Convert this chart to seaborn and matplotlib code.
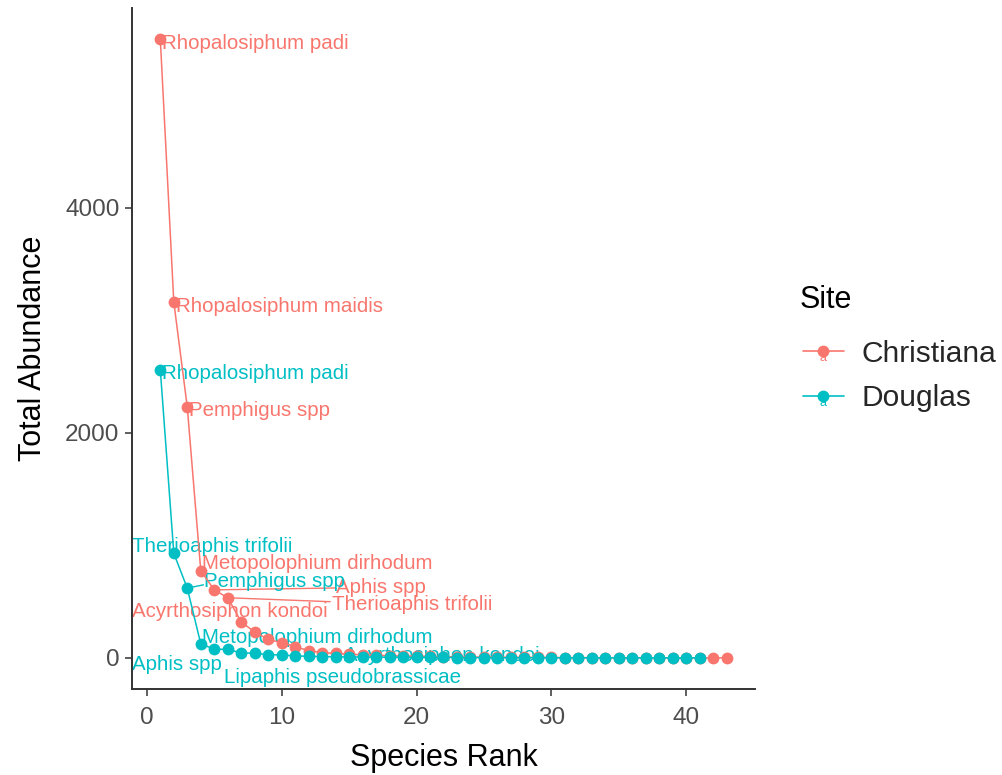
import numpy as np
import pandas as pd
import matplotlib
matplotlib.use("Agg")
import matplotlib.pyplot as plt
import seaborn as sns
from matplotlib.lines import Line2D
from matplotlib.text import Text
from matplotlib.legend_handler import HandlerLine2D

# ---------------- data ----------------
christiana_abund = [5500, 3165, 2230, 775, 605, 535, 320, 230, 165, 135, 100, 65,
                    48, 40, 33, 28, 24, 20, 17, 15, 13, 11, 9, 8, 7, 6, 5, 5, 4, 4,
                    3, 3, 3, 2, 2, 2, 2, 1, 1, 1, 1, 1, 1]
douglas_abund = [2560, 930, 620, 125, 78, 76, 44, 43, 28, 27, 18, 15, 12, 10, 9,
                 8, 7, 6, 5, 5, 4, 4, 3, 3, 3, 2, 2, 2, 2, 2, 1, 1, 1, 1, 1, 1,
                 1, 1, 1, 1, 1]
sites = ["Christiana", "Douglas"]

christiana_labels = ["Rhopalosiphum padi", "Rhopalosiphum maidis", "Pemphigus spp",
                     "Metopolophium dirhodum", "Aphis spp", "Therioaphis trifolii",
                     "Acyrthosiphon kondoi"]
douglas_labels = ["Rhopalosiphum padi", "Therioaphis trifolii", "Pemphigus spp",
                  "Metopolophium dirhodum", "Aphis spp", "Lipaphis pseudobrassicae",
                  "Acyrthosiphon kondoi"]

# label text positions (repelled), in data units
christiana_label_pos = [(1.1, 5460), (2.15, 3125), (3.12, 2200), (4.08, 836),
                        (14.0, 625), (13.72, 475), (-1.11, 415)]
douglas_label_pos = [(1.1, 2530), (-1.11, 990), (4.23, 680), (4.08, 180),
                     (-1.11, -60), (5.71, -175), (14.6, 25)]
# segment end points for long leader lines: (label index, x_end, y_end)
christiana_segments = [(4, 14.0, 622), (5, 13.6, 500)]
douglas_segments = [(2, 4.2, 650)]

colors = {"Christiana": "#F8766D", "Douglas": "#00BFC4"}

df = pd.concat([
    pd.DataFrame({"Site": "Christiana", "Rank": np.arange(1, len(christiana_abund) + 1),
                  "Abundance": christiana_abund}),
    pd.DataFrame({"Site": "Douglas", "Rank": np.arange(1, len(douglas_abund) + 1),
                  "Abundance": douglas_abund}),
], ignore_index=True)

# ---------------- plot ----------------
sns.set_theme(style="ticks")
plt.rcParams["font.family"] = ["Liberation Sans", "DejaVu Sans"]

fig = plt.figure(figsize=(10.03, 7.75), dpi=100)
ax = fig.add_axes([0.1316, 0.111, 0.6211, 0.8787])

# text labels below the points (drawn first)
label_fs = 14.8
for site, labels, pos, segs, vals in [
        ("Christiana", christiana_labels, christiana_label_pos, christiana_segments, christiana_abund),
        ("Douglas", douglas_labels, douglas_label_pos, douglas_segments, douglas_abund)]:
    c = colors[site]
    for i, (lab, (lx, ly)) in enumerate(zip(labels, pos)):
        ax.text(lx, ly, lab, color=c, fontsize=label_fs, ha="left", va="center",
                zorder=1, clip_on=False)
    for (i, xe, ye) in segs:
        ax.plot([i + 1, xe], [vals[i], ye], color=c, lw=1.0, zorder=1)

sns.lineplot(data=df, x="Rank", y="Abundance", hue="Site", hue_order=sites,
             palette=colors, marker="o", markersize=8.5, markeredgewidth=0,
             linewidth=1.1, legend=False, ax=ax, zorder=3)

ax.set_xlim(-1.1, 45.1)
ax.set_ylim(-276, 5778)
ax.set_xticks([0, 10, 20, 30, 40])
ax.set_yticks([0, 2000, 4000])
ax.set_xlabel("Species Rank", fontsize=22, color="black", labelpad=10)
ax.set_ylabel("Total Abundance", fontsize=22, color="black", labelpad=12)
ax.tick_params(axis="both", labelsize=17.5, labelcolor="#4D4D4D", color="#333333",
               length=5, width=1.1, pad=4)
ax.tick_params(axis="x", pad=8)
for s in ["top", "right"]:
    ax.spines[s].set_visible(False)
for s in ["left", "bottom"]:
    ax.spines[s].set_color("#333333")
    ax.spines[s].set_linewidth(1.4)


class HandlerLineA(HandlerLine2D):
    def create_artists(self, legend, orig_handle, xdescent, ydescent, width,
                       height, fontsize, trans):
        arts = super().create_artists(legend, orig_handle, xdescent, ydescent,
                                      width, height, fontsize, trans)
        t = Text(x=width / 2 - xdescent, y=height / 2 - ydescent - 5, text="a",
                 color=orig_handle.get_color(), fontsize=9, ha="center",
                 va="center", transform=trans)
        return list(arts) + [t]


handles = [Line2D([], [], color=colors[s], marker="o", markersize=8.5,
                  markeredgewidth=0, lw=1.2) for s in sites]
fig.text(0.7976, 1 - 300 / 775, "Site", fontsize=22, ha="left", va="center",
         color="black")
leg = fig.legend(handles, sites, loc="upper left",
                 bbox_to_anchor=(0.786, 1 - 325 / 775), frameon=False, fontsize=21.5,
                 handlelength=1.35, handletextpad=0.6,
                 labelspacing=0.55, borderpad=0.0,
                 handler_map={Line2D: HandlerLineA()})

fig.savefig("out.png", dpi=100)
